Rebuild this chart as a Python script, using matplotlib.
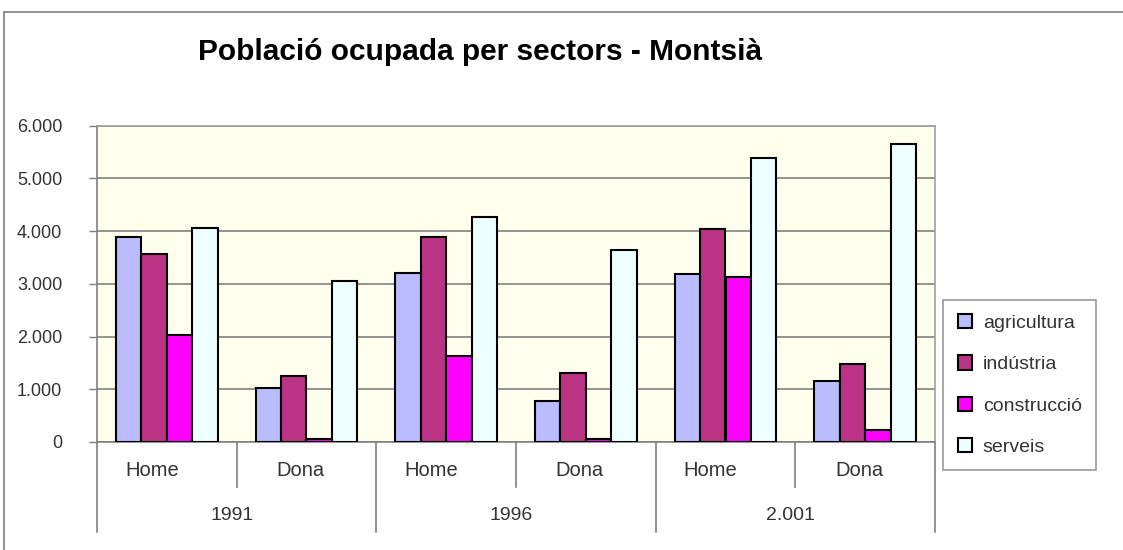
import matplotlib.pyplot as plt
from matplotlib.patches import Rectangle
import numpy as np

plt.rcParams['font.family'] = ['Liberation Sans', 'DejaVu Sans']

sexes = ["Home", "Dona", "Home", "Dona", "Home", "Dona"]
years = ["1991", "1996", "2.001"]
sectors = ["agricultura", "indústria", "construcció", "serveis"]

agricultura = [3890, 1020, 3200, 770, 3180, 1160]
industria = [3560, 1250, 3890, 1310, 4030, 1480]
construccio = [2030, 60, 1630, 60, 3130, 220]
serveis = [4050, 3060, 4260, 3640, 5380, 5640]

series = [agricultura, industria, construccio, serveis]
colors = ["#BBBBFF", "#BB3385", "#FF00FF", "#EEFFFF"]
text_col = "#333333"

fig = plt.figure(figsize=(11.23, 5.5), dpi=100)
ax = fig.add_axes([97 / 1123, 1 - 442 / 550, (935 - 97) / 1123, (442 - 125.5) / 550])
ax.set_facecolor("#FFFFEE")

x = np.arange(len(sexes))
w = 1 / 5.5
for i, (vals, c, name) in enumerate(zip(series, colors, sectors)):
    ax.bar(x + (i - 1.5) * w, vals, width=w, color=c, edgecolor="black",
           linewidth=1.5, label=name, zorder=3)

ax.set_xlim(-0.5, len(sexes) - 0.5)
ax.set_ylim(0, 6000)
ax.set_yticks(range(0, 6001, 1000))
ax.set_yticklabels(["0", "1.000", "2.000", "3.000", "4.000", "5.000", "6.000"])
ax.yaxis.grid(True, color="#808080", linewidth=1.2, zorder=0)
ax.tick_params(axis="y", length=6, width=1, color="#808080", labelsize=13,
               labelcolor=text_col, pad=19)
ax.set_xticks([])
for side in ["top", "right"]:
    ax.spines[side].set_color("#A0A0A0")
    ax.spines[side].set_linewidth(1.2)
ax.spines["left"].set_color("#808080")
ax.spines["bottom"].set_color("#808080")
ax.spines["left"].set_linewidth(1.2)
ax.spines["bottom"].set_linewidth(1.2)

# multi-level category axis
trans = ax.get_xaxis_transform()
ppx = 1 / 316.5  # axes fraction per pixel (vertical)
cat_px = 838 / 6  # pixels per category
for k in range(len(sexes) + 1):
    depth = 90 if k % 2 == 0 else 45
    ax.plot([k - 0.5, k - 0.5], [0, -depth * ppx], transform=trans,
            color="#808080", linewidth=1.2, clip_on=False)
for k, s in enumerate(sexes):
    shift = -15 if s == "Home" else -6
    ax.text(k + shift / cat_px, -29 * ppx, s, transform=trans, ha="center",
            va="center", fontsize=14.5, color=text_col)
for k, yr in enumerate(years):
    ax.text(2 * k + 0.5 - 5 / cat_px, -74 * ppx, yr, transform=trans,
            ha="center", va="center", fontsize=14, color=text_col)

fig.text(480 / 1123, 1 - 52 / 550, "Població ocupada per sectors - Montsià",
         ha="center", va="center", fontsize=21.5, fontweight="bold")

# chart area border
fig.patches.append(Rectangle((4 / 1123, -0.1), 1.2, 1.1 - 12 / 550,
                             transform=fig.transFigure, fill=False,
                             edgecolor="#808080", linewidth=1.2))

leg = fig.legend(loc="center left", bbox_to_anchor=(943 / 1123, 1 - 385 / 550),
                 frameon=True, fancybox=False, fontsize=14, labelspacing=1.2,
                 handlelength=0.75, handleheight=0.75, handletextpad=0.55,
                 borderpad=0.75, borderaxespad=0)
leg.get_frame().set_edgecolor("#808080")
leg.get_frame().set_linewidth(1.2)
for t in leg.get_texts():
    t.set_color(text_col)

fig.savefig("out.png", dpi=100)
